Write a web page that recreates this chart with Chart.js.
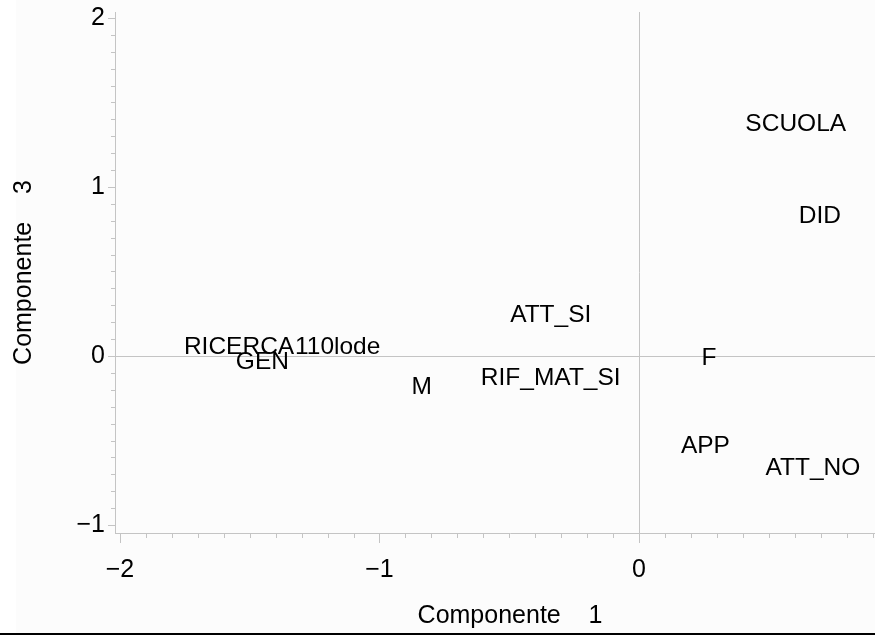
<!DOCTYPE html>
<html><head><meta charset="utf-8">
<script src="https://cdn.jsdelivr.net/npm/chart.js@4/dist/chart.umd.min.js"></script>
<style>
html,body{margin:0;padding:0;background:#fff;width:875px;height:635px;overflow:hidden}
#c{display:block}
</style>
</head><body>
<!-- the reference plot runs past the right edge of the picture, so the canvas is wider than the window and cropped -->
<canvas id="c" width="905" height="635"></canvas>
<script>
// ---- data ----
const pointLabels = ['SCUOLA', 'DID', 'ATT_SI', 'RICERCA', '110lode', 'GEN', 'M', 'RIF_MAT_SI', 'F', 'APP', 'ATT_NO'];
const comp1 = [0.604, 0.697, -0.340, -1.541, -1.161, -1.451, -0.837, -0.340, 0.270, 0.256, 0.670];
const comp3 = [1.386, 0.839, 0.253, 0.063, 0.063, -0.025, -0.173, -0.119, -0.002, -0.522, -0.653];
const xTickLabels = [-2, -1, 0];
const yTickLabels = [-1, 0, 1, 2];
const xTitle = 'Componente    1';
const yTitle = 'Componente    3';

const FONT = "'Liberation Sans', Arial, Helvetica, sans-serif";
const AXIS_GRAY = '#c4c4c4';

function fmt(v) { return v < 0 ? '\u2212' + Math.abs(v) : String(v); }
function isMajor(v) { return Math.abs(v - Math.round(v)) < 1e-6; }

const decor = {
  id: 'decor',
  beforeDraw(chart) {
    const c = chart.ctx;
    c.save();
    c.fillStyle = '#ffffff';
    c.fillRect(0, 0, chart.width, chart.height);
    c.fillStyle = '#fcfcfc';
    c.fillRect(16, 0, chart.width - 16, 633);
    c.restore();
  },
  beforeDatasetsDraw(chart) {
    const c = chart.ctx, a = chart.chartArea, sx = chart.scales.x, sy = chart.scales.y;
    c.save();
    c.strokeStyle = AXIS_GRAY; c.lineWidth = 1;
    const x0 = Math.round(sx.getPixelForValue(0)) + 0.5;
    const y0 = Math.round(sy.getPixelForValue(0)) + 0.5;
    c.beginPath();
    c.moveTo(x0, a.top); c.lineTo(x0, a.bottom);
    c.moveTo(a.left, y0); c.lineTo(a.right, y0);
    c.stroke();
    // tick marks
    c.beginPath();
    sx.ticks.forEach(t => {
      const px = Math.round(sx.getPixelForValue(t.value)) + 0.5;
      const len = isMajor(t.value) ? 10 : 5;
      c.moveTo(px, a.bottom); c.lineTo(px, a.bottom + len);
    });
    sy.ticks.forEach(t => {
      const py = Math.round(sy.getPixelForValue(t.value)) + 0.5;
      const len = isMajor(t.value) ? 7 : 4;
      c.moveTo(a.left, py); c.lineTo(a.left - len, py);
    });
    c.stroke();
    c.restore();
  },
  afterDatasetsDraw(chart) {
    const c = chart.ctx, sx = chart.scales.x, sy = chart.scales.y;
    c.save();
    c.fillStyle = '#000';
    c.font = '24.5px ' + FONT;
    c.textAlign = 'center';
    c.textBaseline = 'alphabetic';
    const ds = chart.data.datasets[0].data;
    ds.forEach((p, i) => {
      const px = sx.getPixelForValue(p.x), py = sy.getPixelForValue(p.y);
      c.fillText(pointLabels[i], px, py + 8.8);
    });
    c.restore();
  },
  afterDraw(chart) {
    const c = chart.ctx;
    c.save();
    c.fillStyle = '#000';
    c.fillRect(0, 633, chart.width, 2);
    c.restore();
  }
};

new Chart(document.getElementById('c'), {
  type: 'scatter',
  data: {
    datasets: [{
      data: comp1.map((x, i) => ({ x, y: comp3[i] })),
      pointRadius: 0, pointHoverRadius: 0, showLine: false
    }]
  },
  options: {
    responsive: false, animation: false, devicePixelRatio: 1,
    events: [],
    layout: { padding: { top: 12, right: 0, bottom: 0, left: 0 } },
    plugins: { legend: { display: false }, tooltip: { enabled: false } },
    scales: {
      x: {
        type: 'linear', min: -2.019, max: 1.025,
        border: { display: true, color: AXIS_GRAY, width: 1 },
        grid: { display: false, drawTicks: true, tickLength: 10 },
        ticks: {
          stepSize: 0.1, autoSkip: false, includeBounds: false, maxRotation: 0,
          padding: 12, color: '#000', font: { family: FONT, size: 25 },
          callback: v => (isMajor(v) && xTickLabels.includes(Math.round(v))) ? fmt(Math.round(v)) : ''
        },
        title: { display: true, text: xTitle, color: '#000', font: { family: FONT, size: 25 }, padding: { top: 4, bottom: 4 } },
        afterFit: s => { s.height = 102; s.paddingLeft = 0; s.paddingRight = 0; }
      },
      y: {
        type: 'linear', min: -1.047, max: 2.035,
        border: { display: true, color: AXIS_GRAY, width: 1 },
        grid: { display: false, drawTicks: true, tickLength: 7 },
        ticks: {
          stepSize: 0.1, autoSkip: false, includeBounds: false,
          padding: 3, color: '#000', font: { family: FONT, size: 25 },
          callback: v => (isMajor(v) && yTickLabels.includes(Math.round(v))) ? fmt(Math.round(v)) : ''
        },
        title: { display: true, text: yTitle, color: '#000', font: { family: FONT, size: 25 }, padding: { top: 9, bottom: 9 } },
        afterFit: s => { s.width = 115; s.paddingTop = 0; s.paddingBottom = 0; }
      }
    }
  },
  plugins: [decor]
});
</script>
</body></html>
